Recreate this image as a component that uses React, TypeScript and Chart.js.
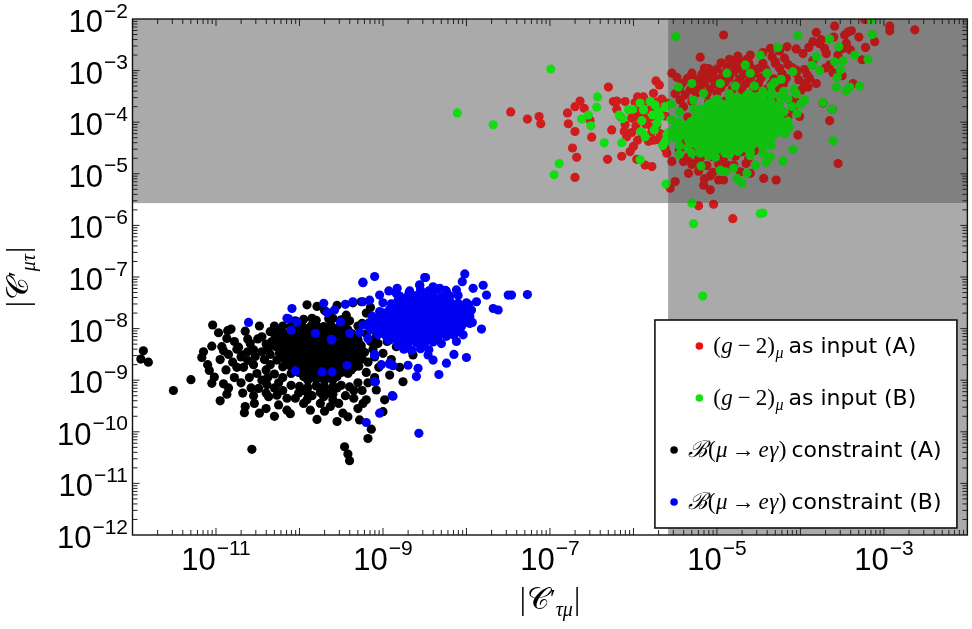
import React, { useEffect, useRef } from "react";
import { Chart, registerables } from "chart.js";
Chart.register(...registerables);

type P = [number, number]; // [log10 x, log10 y]
type Row = [number, number[]]; // [log10 y, list of log10 x]

const X_MIN = 1e-12;
const X_MAX = 1e-2;
const Y_MIN = 1e-12;
const Y_MAX = 1e-2;
const BAND_X = 2.6e-6;
const BAND_Y = 2.7e-6;

const xTickExps = [-11, -9, -7, -5, -3];
const yTickExps = [-12, -11, -10, -9, -8, -7, -6, -5, -4, -3, -2];
const tickDecades = [-12, -11, -10, -9, -8, -7, -6, -5, -4, -3];
const tickMultipliers = [1, 2, 3, 4, 5, 6, 7, 8, 9];

const legendLabels = ["as input (A)", "as input (B)", "constraint (A)", "constraint (B)"];
const legendMath = ["g2", "g2", "meg", "meg"];
const legendColors = ["#ea1111", "#12e412", "#000000", "#0000f0"];

const blackPts: P[] = [
  [-11.87,-8.43],[-11.90,-8.59],[-11.81,-8.65],[-11.51,-9.20],[-11.30,-8.99],[-11.17,-8.56],[-11.04,-7.93],[-10.97,-8.08],
  [-10.86,-8.04],[-10.82,-8.01],[-10.87,-8.19],[-11.05,-8.34],[-10.93,-8.35],[-10.91,-8.43],[-11.08,-8.81],[-11.02,-8.94],
  [-11.05,-9.06],[-10.91,-9.07],[-10.87,-9.27],[-10.75,-8.40],[-10.73,-8.36],[-10.69,-8.51],[-10.75,-8.75],[-10.67,-8.75],
  [-10.68,-9.25],[-10.65,-9.51],[-10.66,-9.63],[-10.57,-10.34],[-10.54,-9.45],[-10.48,-9.64],[-10.53,-8.54],[-10.51,-8.87],
  [-10.49,-9.16],[-10.39,-9.09],[-10.37,-9.32],[-10.27,-9.29],[-10.25,-9.48],[-10.15,-9.58],[-10.11,-9.65],[-10.45,-8.16],
  [-10.35,-8.06],[-10.23,-8.06],[-10.21,-8.29],[-10.37,-8.38],[-10.59,-8.29],[-10.55,-8.41],
  [-9.91,-7.54],[-9.79,-7.57],[-9.85,-7.80],[-9.85,-7.93],[-9.63,-7.70],[-9.36,-7.50],[-9.26,-7.48],[-9.15,-7.59],[-9.20,-7.70],[-9.44,-7.74],
  [-10.01,-9.25],[-9.91,-9.38],[-9.87,-9.58],[-9.79,-9.76],[-9.71,-9.32],[-9.63,-9.51],[-9.53,-9.45],[-9.48,-9.64],[-9.42,-9.71],
  [-9.46,-10.29],[-9.42,-10.43],[-9.40,-10.56],[-9.28,-9.77],[-9.18,-10.13],[-9.14,-9.95],[-9.24,-9.45],[-9.20,-9.38],[-9.08,-9.19],
  [-8.98,-9.38],[-8.92,-8.90],[-8.76,-9.03],[-9.00,-9.61],[-9.06,-8.29],[-9.00,-8.48],[-8.84,-8.35],[-8.64,-8.51],[-8.56,-8.29],
  [-10.70,-8.55],[-10.62,-8.62],[-10.60,-8.95],[-10.55,-8.70],[-10.45,-8.45],[-10.42,-8.60],[-10.40,-8.80],[-10.38,-8.95],
  [-10.45,-9.00],[-10.33,-8.25],[-10.50,-8.20],[-10.62,-8.20],[-10.80,-8.65],[-10.78,-8.95],[-10.30,-9.15],[-10.20,-9.20],
  [-10.10,-9.10],[-10.05,-9.35],[-9.95,-9.20],[-9.85,-9.30],[-9.75,-9.15],[-9.65,-9.25],[-9.55,-9.15],[-9.45,-9.30],
  [-9.35,-9.20],[-9.30,-9.05],[-9.10,-8.95],[-9.05,-8.75],[-9.10,-8.55],[-9.12,-8.40],[-9.08,-8.15],[-9.15,-8.00],
  [-9.25,-7.90],[-9.40,-7.85],[-9.60,-7.80],[-9.70,-7.65],[-9.55,-7.55],[-10.05,-7.85],[-10.20,-7.95],[-10.30,-8.10],
  [-8.90,-8.60],[-8.80,-8.75],[-8.95,-8.25],[-9.00,-8.05],
  [-10.85,-8.50],[-10.95,-8.60],[-10.88,-8.80],[-10.62,-8.45],[-10.70,-9.05],[-10.58,-9.15],[-10.35,-8.50],[-10.35,-8.70],
  [-10.30,-8.88],[-10.20,-8.95],[-10.25,-9.05],[-10.40,-9.25],[-10.15,-9.35],[-9.95,-9.45],[-9.75,-9.45],[-9.60,-9.38],
  [-9.35,-9.35],[-9.25,-9.20],[-9.18,-9.05],[-9.20,-8.85],[-9.18,-8.65],[-9.15,-8.25],[-9.20,-8.10],[-9.30,-7.95],
  [-9.45,-7.95],[-10.10,-7.95],[-10.30,-7.95],[-10.40,-8.30],[-11.10,-8.70],[-11.15,-8.45],[-10.78,-8.25],[-10.65,-8.05],
  [-10.48,-7.95],[-10.55,-9.30],[-10.85,-9.15],[-10.95,-9.40],[-10.40,-9.55],[-10.30,-9.70],[-9.70,-9.60],[-9.55,-9.80],[-9.30,-9.55],
  [-9.95,-7.82],[-9.80,-7.84],[-9.65,-7.81],[-9.50,-7.83],
  [-9.97,-7.95],[-9.88,-7.98],[-9.80,-7.93],[-9.71,-7.96],[-9.62,-7.94],[-9.53,-7.98],
  [-10.15,-8.10],[-10.06,-8.07],[-9.98,-8.09],[-9.89,-8.06],[-9.81,-8.10],[-9.72,-8.08],[-9.64,-8.05],[-9.55,-8.09],[-9.46,-8.07],[-9.37,-8.10],
  [-10.24,-8.22],[-10.15,-8.20],[-10.07,-8.23],[-9.98,-8.19],[-9.90,-8.22],[-9.81,-8.21],[-9.73,-8.24],[-9.64,-8.20],[-9.56,-8.22],[-9.47,-8.19],[-9.39,-8.23],[-9.30,-8.21],
  [-10.28,-8.35],[-10.19,-8.33],[-10.11,-8.36],[-10.02,-8.32],[-9.94,-8.35],[-9.85,-8.34],[-9.77,-8.37],[-9.68,-8.33],[-9.60,-8.35],[-9.51,-8.32],[-9.43,-8.36],[-9.34,-8.34],[-9.26,-8.33],
  [-10.24,-8.48],[-10.15,-8.46],[-10.07,-8.49],[-9.98,-8.45],[-9.90,-8.48],[-9.81,-8.47],[-9.73,-8.50],[-9.64,-8.46],[-9.56,-8.48],[-9.47,-8.45],[-9.39,-8.49],[-9.30,-8.47],[-9.22,-8.46],
  [-10.27,-8.61],[-10.18,-8.59],[-10.10,-8.62],[-10.01,-8.58],[-9.93,-8.61],[-9.84,-8.60],[-9.76,-8.63],[-9.67,-8.59],[-9.59,-8.61],[-9.50,-8.58],[-9.42,-8.62],[-9.33,-8.60],[-9.25,-8.59],
  [-10.20,-8.74],[-10.11,-8.72],[-10.03,-8.75],[-9.94,-8.71],[-9.86,-8.74],[-9.77,-8.73],[-9.69,-8.76],[-9.60,-8.72],[-9.52,-8.74],[-9.43,-8.71],[-9.35,-8.75],[-9.29,-8.73],
  [-10.10,-8.87],[-10.01,-8.85],[-9.93,-8.88],[-9.84,-8.84],[-9.76,-8.87],[-9.67,-8.86],[-9.59,-8.89],[-9.50,-8.85],[-9.42,-8.87],
  [-9.90,-9.00],[-9.80,-8.98],[-9.70,-9.01],[-9.60,-8.99],
  [-10.00,-9.12],[-9.90,-9.14],[-9.80,-9.11],[-9.70,-9.13],[-9.60,-9.12],[-9.50,-9.10],[-9.40,-9.13],
  [-9.90,-9.26],[-9.75,-9.24],[-9.60,-9.27],
];

const blackCoreRows: Row[] = [
  [-8.02, [-10.10,-10.01,-9.93,-9.84,-9.76,-9.67,-9.59,-9.50,-9.42]],
  [-8.15, [-10.20,-10.11,-10.02,-9.94,-9.85,-9.77,-9.68,-9.60,-9.51,-9.43,-9.34]],
  [-8.28, [-10.24,-10.15,-10.06,-9.98,-9.89,-9.81,-9.72,-9.64,-9.55,-9.47,-9.38,-9.29]],
  [-8.41, [-10.20,-10.11,-10.02,-9.94,-9.85,-9.77,-9.68,-9.60,-9.51,-9.43,-9.34,-9.26]],
  [-8.54, [-10.20,-10.11,-10.02,-9.94,-9.85,-9.77,-9.68,-9.60,-9.51,-9.43,-9.34,-9.26]],
  [-8.67, [-10.15,-10.06,-9.98,-9.89,-9.81,-9.72,-9.64,-9.55,-9.47,-9.38,-9.31]],
  [-8.80, [-10.06,-9.98,-9.89,-9.81,-9.72,-9.64,-9.55,-9.47,-9.38]],
  [-8.93, [-9.95,-9.85,-9.75,-9.65,-9.55]],
];

const bluePts: P[] = [
  [-9.10,-6.99],[-9.24,-7.10],[-8.49,-7.01],[-8.02,-6.94],[-8.05,-7.09],[-7.50,-7.35],[-7.46,-7.35],[-7.27,-7.34],
  [-7.68,-7.61],[-7.62,-7.64],[-7.82,-8.01],[-7.96,-7.90],[-8.00,-8.56],[-8.15,-8.50],[-8.33,-8.89],[-8.24,-8.67],
  [-8.58,-8.77],[-8.60,-8.93],[-8.70,-8.71],[-8.57,-10.03],[-9.04,-9.64],[-8.89,-9.30],[-9.10,-9.03],[-9.20,-9.82],
  [-8.92,-8.67],[-9.10,-8.50],[-10.09,-7.61],[-10.15,-7.80],[-10.03,-7.87],[-10.10,-8.03],[-9.71,-7.51],[-9.81,-8.09],
  [-9.51,-7.87],[-9.40,-8.09],[-9.36,-7.48],[-9.45,-7.53],[-9.24,-7.48],[-9.16,-7.45],[-9.61,-8.22],[-10.05,-8.82],
  [-9.73,-8.84],[-9.61,-8.84],[-9.43,-8.71],
  [-8.83,-7.22],[-8.80,-7.41],[-8.69,-7.32],[-8.56,-7.16],[-8.40,-7.19],[-8.32,-7.22],[-8.24,-7.28],[-8.12,-7.25],
  [-7.92,-7.22],[-7.80,-7.16],[-7.76,-7.35],[-7.88,-7.48],[-7.97,-7.54],[-8.08,-8.06],[-8.12,-8.25],[-8.04,-8.12],
  [-9.04,-7.67],[-9.00,-7.80],[-9.24,-7.93],[-9.06,-8.12],[-8.94,-8.22],[-8.82,-8.32],[-8.66,-8.42],[-8.46,-8.51],
  [-8.40,-8.61],[-8.73,-8.25],
  [-10.61,-7.88],[-10.13,-7.81],[-9.62,-8.21],[-9.28,-8.08],[-9.18,-8.19],[-9.10,-8.51],[-9.02,-8.70],[-8.92,-8.69],
  [-8.88,-8.72],[-9.09,-9.03],[-8.88,-9.31],[-9.67,-7.69],[-9.58,-7.64],[-9.24,-7.11],[-9.04,-7.35],[-8.93,-7.27],
  [-8.84,-7.32],[-8.82,-7.45],[-8.50,-7.01],[-8.56,-7.15],
  [-8.55,-7.25],[-8.45,-7.27],[-8.35,-7.24],[-8.25,-7.26],[-8.68,-7.27],
  [-8.80,-7.37],[-8.70,-7.39],[-8.60,-7.36],[-8.50,-7.38],[-8.40,-7.35],[-8.30,-7.39],[-8.20,-7.37],[-8.10,-7.36],
  [-9.00,-7.50],[-8.90,-7.52],[-8.80,-7.49],[-8.73,-7.51],[-8.19,-7.49],[-8.10,-7.51],[-8.00,-7.50],
  [-8.64,-7.50],[-8.55,-7.52],[-8.46,-7.49],[-8.37,-7.51],[-8.28,-7.50],
  [-8.92,-7.63],[-8.83,-7.65],[-8.74,-7.62],[-8.65,-7.64],[-8.56,-7.61],[-8.47,-7.65],[-8.38,-7.63],[-8.29,-7.62],[-8.20,-7.64],[-8.11,-7.61],[-8.03,-7.65],
  [-9.04,-7.76],[-8.95,-7.78],[-8.86,-7.75],[-8.77,-7.77],[-8.68,-7.74],[-8.59,-7.78],[-8.50,-7.76],[-8.41,-7.75],[-8.32,-7.77],[-8.23,-7.74],[-8.14,-7.78],[-8.05,-7.76],
  [-9.09,-7.89],[-9.00,-7.91],[-8.91,-7.88],[-8.82,-7.90],[-8.73,-7.87],[-8.64,-7.91],[-8.55,-7.89],[-8.46,-7.88],[-8.37,-7.90],[-8.28,-7.87],[-8.19,-7.91],[-8.10,-7.89],[-8.02,-7.88],
  [-9.08,-8.02],[-8.99,-8.04],[-8.90,-8.01],[-8.81,-8.03],[-8.72,-8.00],[-8.63,-8.04],[-8.54,-8.02],[-8.45,-8.01],[-8.36,-8.03],[-8.27,-8.00],[-8.18,-8.04],
  [-8.96,-8.15],[-8.87,-8.17],[-8.78,-8.14],[-8.69,-8.16],[-8.60,-8.13],[-8.51,-8.17],[-8.42,-8.15],[-8.33,-8.14],
  [-8.80,-8.28],[-8.70,-8.30],[-8.60,-8.27],[-8.50,-8.28],[-8.40,-8.26],[-8.30,-8.29],
  [-8.75,-8.40],[-8.65,-8.42],[-8.55,-8.39],[-8.45,-8.41],
  [-8.24,-8.15],[-8.15,-8.13],[-8.10,-8.02],[-9.15,-8.02],[-9.17,-7.89],[-9.13,-7.76],[-7.96,-7.76],[-7.94,-7.64],[-7.93,-7.88],
];

const blueCoreRows: Row[] = [
  [-7.43, [-8.75,-8.65,-8.55,-8.45,-8.35,-8.25]],
  [-7.56, [-8.87,-8.78,-8.69,-8.60,-8.51,-8.42,-8.33,-8.24,-8.15,-8.06]],
  [-7.70, [-8.98,-8.89,-8.80,-8.71,-8.62,-8.53,-8.44,-8.35,-8.26,-8.17,-8.08,-8.00]],
  [-7.83, [-9.05,-8.96,-8.87,-8.78,-8.69,-8.60,-8.51,-8.42,-8.33,-8.24,-8.15,-8.06]],
  [-7.96, [-9.04,-8.95,-8.86,-8.77,-8.68,-8.59,-8.50,-8.41,-8.32,-8.23,-8.14,-8.06]],
  [-8.09, [-9.03,-8.94,-8.85,-8.76,-8.67,-8.58,-8.49,-8.40,-8.31,-8.22]],
  [-8.22, [-8.92,-8.83,-8.74,-8.65,-8.56,-8.47,-8.38]],
];

const redPts: P[] = [
  [-7.47,-3.80],[-7.27,-3.94],[-7.13,-3.89],[-7.11,-4.03],[-6.79,-3.82],[-6.78,-4.03],[-6.70,-3.70],[-6.64,-3.59],
  [-6.59,-3.73],[-6.52,-3.96],[-6.50,-4.29],[-6.70,-4.18],[-6.73,-4.50],[-6.68,-4.68],[-6.70,-5.07],[-6.31,-4.72],
  [-6.30,-3.32],[-6.24,-3.60],[-6.20,-3.59],[-6.26,-4.15],[-6.14,-4.66],[-6.04,-4.57],[-5.96,-4.72],[-5.86,-4.83],
  [-5.78,-4.86],[-5.95,-3.51],[-5.88,-3.51],[-5.76,-3.44],[-5.73,-3.20],[-5.69,-3.28],[-5.66,-3.55],[-6.11,-4.18],
  [-6.08,-4.28],[-6.00,-4.47],[-5.96,-3.89],[-5.84,-3.96],[-5.76,-4.35],[-5.62,-4.51],[-5.60,-4.60],[-5.56,-5.28],
  [-5.50,-5.15],[-5.54,-4.76],[-5.40,-4.76],[-5.34,-4.99],[-5.54,-3.05],[-5.48,-3.13],[-5.36,-3.18],[-5.28,-3.21],
  [-5.20,-2.74],[-5.16,-3.09],[-5.10,-2.96],[-5.04,-3.18],[-4.92,-2.31],[-4.85,-2.78],[-4.76,-2.86],[-4.72,-2.83],
  [-4.64,-2.78],[-4.56,-2.99],[-4.50,-2.96],[-4.36,-2.57],[-4.34,-2.73],[-4.30,-2.86],[-4.19,-2.76],[-4.16,-2.54],
  [-4.05,-2.99],[-3.97,-2.67],[-3.85,-2.44],[-3.81,-2.26],[-3.77,-2.48],[-3.71,-2.57],[-3.69,-2.67],[-3.65,-2.89],
  [-3.59,-2.14],[-3.47,-2.31],[-3.43,-2.25],[-3.39,-2.23],[-3.45,-2.47],[-3.49,-2.57],[-3.26,-2.79],[-3.22,-2.55],
  [-3.11,-2.44],[-2.93,-2.14],[-2.93,-2.23],[-2.63,-2.21],[-3.23,-2.01],[-3.55,-4.80],[-3.65,-3.97],[-3.73,-3.63],
  [-3.62,-3.75],[-4.03,-4.25],[-3.37,-3.25],[-3.61,-3.04],[-4.29,-5.12],[-4.44,-5.09],[-4.60,-4.99],[-5.04,-5.59],
  [-5.22,-5.62],[-4.81,-5.87],[-5.08,-5.31],[-5.16,-5.22],[-4.92,-5.12],[-4.88,-4.83],[-5.08,-5.04],[-5.20,-4.86],
  [-5.28,-4.80],[-5.22,-4.67],[-5.44,-3.57],[-5.40,-3.70],[-5.48,-4.28],[-5.38,-4.41],[-5.60,-3.63],[-5.68,-4.22],
  [-5.78,-4.09],[-3.99,-3.38],[-3.91,-3.32],[-3.89,-3.15],[-3.81,-3.25],[-4.07,-3.57],[-4.09,-3.76],[-4.01,-3.89],
  [-4.45,-2.65],[-4.25,-2.62],[-4.05,-2.58],[-3.90,-2.55],[-3.75,-2.40],[-3.60,-2.35],[-3.30,-2.35],[-3.40,-2.60],
  [-3.55,-2.70],[-3.85,-2.80],[-4.60,-2.70],[-4.75,-2.72],[-3.70,-2.95],[-3.50,-3.10],[-3.95,-3.25],
  [-4.95,-2.85],[-4.80,-2.87],[-4.62,-2.84],[-4.45,-2.86],[-4.30,-2.83],[-4.15,-2.88],
  [-5.15,-2.95],[-5.00,-2.97],[-4.88,-2.94],[-4.75,-2.96],[-4.60,-2.93],[-4.42,-2.97],[-4.25,-2.95],[-4.10,-2.94],[-3.95,-2.98],
  [-5.30,-3.05],[-5.18,-3.07],[-5.05,-3.04],[-4.92,-3.06],[-4.80,-3.03],[-4.68,-3.07],[-4.55,-3.05],[-4.40,-3.04],[-4.22,-3.06],[-4.05,-3.05],[-3.92,-3.08],
  [-5.35,-3.15],[-5.22,-3.17],[-5.10,-3.14],[-4.97,-3.16],[-4.85,-3.13],[-4.73,-3.17],[-4.60,-3.15],[-4.47,-3.14],[-4.32,-3.16],[-4.17,-3.15],[-4.02,-3.18],
  [-5.42,-3.25],[-5.28,-3.27],[-5.15,-3.24],[-5.02,-3.26],[-4.90,-3.23],[-4.78,-3.27],[-4.65,-3.25],[-4.50,-3.24],[-4.35,-3.26],[-4.20,-3.25],
  [-5.45,-3.35],[-5.32,-3.37],[-5.20,-3.34],[-5.08,-3.36],[-4.95,-3.33],[-4.82,-3.37],[-4.70,-3.35],[-4.55,-3.34],[-4.40,-3.36],[-4.25,-3.35],
  [-5.50,-3.45],[-5.38,-3.47],[-5.25,-3.44],[-5.12,-3.46],[-5.00,-3.43],[-4.85,-3.47],[-4.70,-3.45],[-4.55,-3.44],[-4.40,-3.46],
  [-5.45,-4.55],[-5.30,-4.57],[-5.15,-4.54],[-5.00,-4.56],[-4.85,-4.53],[-4.70,-4.57],[-4.55,-4.55],
  [-5.35,-4.68],[-5.20,-4.70],[-5.05,-4.67],[-4.92,-4.69],[-4.78,-4.66],[-4.62,-4.70],
  [-5.30,-4.82],[-5.12,-4.84],[-4.98,-4.81],[-4.80,-4.83],[-4.65,-4.80],
  [-5.22,-4.95],[-5.05,-4.97],[-4.90,-4.94],[-4.72,-4.96],[-5.15,-5.10],[-4.98,-5.12],
  [-6.10,-3.60],[-5.98,-3.62],[-5.85,-3.59],[-5.72,-3.61],
  [-6.20,-3.75],[-6.05,-3.77],[-5.92,-3.74],[-5.80,-3.76],[-5.68,-3.73],
  [-6.15,-3.90],[-6.02,-3.92],[-5.88,-3.89],[-5.75,-3.91],[-5.62,-3.88],
  [-6.10,-4.05],[-5.97,-4.07],[-5.85,-4.04],[-5.72,-4.06],
  [-6.02,-4.20],[-5.90,-4.22],[-5.78,-4.19],[-5.95,-4.35],[-5.82,-4.37],[-5.70,-4.34],
  [-5.30,-3.60],[-5.10,-3.62],[-4.90,-3.59],[-4.70,-3.61],[-4.50,-3.58],[-4.30,-3.62],[-4.10,-3.60],
  [-5.35,-3.90],[-5.15,-3.92],[-4.95,-3.89],[-4.75,-3.91],[-4.55,-3.88],[-4.35,-3.92],[-4.15,-3.90],
  [-5.35,-4.20],[-5.15,-4.22],[-4.95,-4.19],[-4.75,-4.21],[-4.55,-4.18],[-4.35,-4.22],
  [-5.30,-4.40],[-5.10,-4.42],[-4.90,-4.39],[-4.70,-4.41],[-4.50,-4.38],
];

const greenPts: P[] = [
  [-8.11,-3.82],[-7.68,-4.05],[-6.99,-2.97],[-6.89,-4.80],[-6.95,-5.02],[-6.43,-3.51],[-6.44,-3.71],[-6.54,-3.86],
  [-6.51,-4.07],[-6.62,-3.94],[-6.35,-4.40],[-6.14,-4.40],[-6.17,-3.86],[-6.13,-3.93],[-6.06,-3.76],[-6.01,-3.75],
  [-5.92,-3.63],[-5.88,-3.76],[-5.90,-3.97],[-5.91,-4.18],[-5.86,-4.28],[-5.74,-3.67],[-5.77,-3.86],[-5.72,-4.02],
  [-5.68,-3.89],[-5.62,-3.70],[-5.60,-4.25],[-5.62,-4.38],[-5.92,-4.73],[-5.61,-5.20],[-5.45,-4.62],[-5.49,-2.34],
  [-5.46,-3.32],[-5.30,-5.57],[-5.28,-5.97],[-4.48,-5.77],[-5.17,-7.37],[-4.45,-5.76],[-5.30,-3.25],[-5.28,-3.57],
  [-5.19,-4.85],[-5.02,-4.68],[-4.96,-4.93],[-4.90,-4.96],[-4.80,-4.89],[-4.76,-5.09],[-4.70,-5.18],[-4.64,-4.99],
  [-4.54,-4.83],[-4.41,-4.78],[-4.36,-4.67],[-4.21,-4.75],[-4.09,-4.53],[-4.03,-2.32],[-3.65,-2.39],[-3.54,-2.54],
  [-3.81,-2.73],[-3.86,-2.90],[-3.77,-3.00],[-3.59,-2.83],[-3.49,-2.81],[-3.35,-2.70],[-3.19,-2.78],[-3.14,-2.30],
  [-3.52,-2.99],[-3.56,-3.13],[-3.57,-3.32],[-3.45,-3.39],[-3.41,-3.32],[-3.29,-3.30],[-3.73,-3.62],[-3.62,-3.75],
  [-3.61,-4.36],[-3.95,-3.57],[-4.04,-3.83],[-4.09,-3.02],[-4.08,-3.36],[-4.27,-2.55],[-4.48,-2.70],[-4.40,-3.05],
  [-4.31,-3.23],[-4.23,-3.17],[-4.60,-3.05],[-4.66,-2.89],[-4.88,-3.05],[-4.96,-3.25],[-5.16,-3.44],[-3.15,-2.02],
  [-4.55,-3.30],[-4.45,-3.40],[-4.35,-3.45],[-4.25,-3.50],[-4.15,-3.55],[-4.20,-3.40],[-4.35,-3.30],[-4.50,-3.50],
  [-4.62,-3.45],[-4.10,-3.70],[-4.05,-3.45],[-4.00,-3.65],[-4.70,-3.60],[-4.40,-3.60],[-4.25,-3.65],[-5.00,-3.55],
  [-5.10,-3.65],[-5.20,-3.75],[-4.85,-3.45],[-4.78,-3.30],
  [-5.55,-3.95],[-5.50,-4.10],[-5.52,-4.30],[-5.45,-4.45],[-5.45,-3.80],[-5.58,-4.20],
  [-5.10,-4.65],[-4.85,-4.62],[-4.60,-4.65],[-4.45,-4.60],[-5.30,-4.60],
  [-5.70,-3.80],[-5.75,-4.15],[-5.65,-4.45],[-5.80,-3.60],[-5.55,-3.65],
  [-4.85,-3.50],[-4.75,-3.52],[-4.65,-3.49],[-4.55,-3.51],[-4.45,-3.48],
  [-5.05,-3.62],[-4.95,-3.64],[-4.85,-3.61],[-4.75,-3.63],[-4.65,-3.60],[-4.55,-3.64],[-4.45,-3.62],[-4.35,-3.61],
  [-5.28,-3.74],[-5.15,-3.74],[-5.05,-3.75],[-4.40,-3.75],[-4.30,-3.74],[-4.20,-3.80],
  [-4.94,-3.74],[-4.85,-3.76],[-4.76,-3.73],[-4.67,-3.75],[-4.58,-3.72],[-4.49,-3.76],
  [-5.17,-3.87],[-5.08,-3.85],[-4.99,-3.88],[-4.90,-3.84],[-4.81,-3.87],[-4.72,-3.86],[-4.63,-3.89],[-4.54,-3.85],[-4.45,-3.87],[-4.36,-3.84],[-4.29,-3.88],
  [-5.31,-3.99],[-5.22,-3.97],[-5.13,-4.00],[-5.04,-3.96],[-4.95,-3.99],[-4.86,-3.98],[-4.77,-4.01],[-4.68,-3.97],[-4.59,-3.99],[-4.50,-3.96],[-4.41,-4.00],[-4.32,-3.98],[-4.23,-3.97],
  [-5.37,-4.11],[-5.28,-4.09],[-5.19,-4.12],[-5.10,-4.08],[-5.01,-4.11],[-4.92,-4.10],[-4.83,-4.13],[-4.74,-4.09],[-4.65,-4.11],[-4.56,-4.08],[-4.47,-4.12],[-4.38,-4.10],[-4.29,-4.09],[-4.22,-4.11],
  [-5.38,-4.23],[-5.29,-4.21],[-5.20,-4.24],[-5.11,-4.20],[-5.02,-4.23],[-4.93,-4.22],[-4.84,-4.25],[-4.75,-4.21],[-4.66,-4.23],[-4.57,-4.20],[-4.48,-4.24],[-4.39,-4.22],[-4.29,-4.21],
  [-5.34,-4.35],[-5.25,-4.33],[-5.16,-4.36],[-5.07,-4.32],[-4.98,-4.35],[-4.89,-4.34],[-4.80,-4.37],[-4.71,-4.33],[-4.62,-4.35],[-4.53,-4.32],[-4.44,-4.36],[-4.37,-4.34],
  [-5.22,-4.47],[-5.13,-4.45],[-5.04,-4.48],[-4.95,-4.44],[-4.86,-4.47],[-4.77,-4.46],[-4.68,-4.49],[-4.58,-4.45],
  [-5.05,-4.58],[-4.90,-4.60],[-4.75,-4.57],
  [-5.45,-4.00],[-5.47,-4.15],[-5.45,-4.28],[-4.15,-3.98],[-4.13,-4.10],[-4.18,-4.22],
  [-5.35,-4.50],[-4.45,-4.48],[-4.35,-4.45],[-5.20,-4.60],[-4.60,-4.58],
];

const greenCoreRows: Row[] = [
  [-3.68, [-4.98,-4.89,-4.80,-4.71,-4.62,-4.53,-4.44]],
  [-3.80, [-5.12,-5.03,-4.94,-4.85,-4.76,-4.67,-4.58,-4.49,-4.40,-4.32]],
  [-3.92, [-5.26,-5.17,-5.08,-4.99,-4.90,-4.81,-4.72,-4.63,-4.54,-4.45,-4.36,-4.27]],
  [-4.04, [-5.34,-5.25,-5.16,-5.07,-4.98,-4.89,-4.80,-4.71,-4.62,-4.53,-4.44,-4.35,-4.26]],
  [-4.16, [-5.33,-5.24,-5.15,-5.06,-4.97,-4.88,-4.79,-4.70,-4.61,-4.52,-4.43,-4.34,-4.25]],
  [-4.28, [-5.33,-5.24,-5.15,-5.06,-4.97,-4.88,-4.79,-4.70,-4.61,-4.52,-4.43,-4.34]],
  [-4.40, [-5.29,-5.20,-5.11,-5.02,-4.93,-4.84,-4.75,-4.66,-4.57,-4.48,-4.40]],
  [-4.52, [-5.17,-5.08,-4.99,-4.90,-4.81,-4.72,-4.63]],
];

const rowsToPts = (rows: Row[]): P[] => rows.flatMap(([ly, xs]) => xs.map((lx) => [lx, ly] as P));
const toXY = (pts: P[]) => pts.map(([a, b]) => ({ x: Math.pow(10, a), y: Math.pow(10, b) }));

const SANS_TICK = '"Liberation Sans", Arial, sans-serif';
const SERIF = '"Liberation Serif", "DejaVu Serif", serif';
const LEG_SANS = '"DejaVu Sans", sans-serif';

type Seg = { t: string; f: string; dy?: number; gap?: number };

function segsWidth(ctx: CanvasRenderingContext2D, segs: Seg[]) {
  let w = 0;
  for (const s of segs) {
    ctx.font = s.f;
    w += ctx.measureText(s.t).width + (s.gap || 0);
  }
  return w;
}
function drawSegs(ctx: CanvasRenderingContext2D, segs: Seg[], x: number, y: number) {
  for (const s of segs) {
    ctx.font = s.f;
    ctx.fillText(s.t, x, y + (s.dy || 0));
    x += ctx.measureText(s.t).width + (s.gap || 0);
  }
  return x;
}

function mathSegs(kind: string): Seg[] {
  const up = `23px ${SERIF}`;
  const it = `italic 23px ${SERIF}`;
  const sub = `italic 16px ${SERIF}`;
  if (kind === "g2") {
    return [
      { t: "(", f: up, gap: 0.5 },
      { t: "g", f: it, gap: 5 },
      { t: "\u2212", f: up, gap: 5 },
      { t: "2", f: up },
      { t: ")", f: up, gap: 0.5 },
      { t: "\u03bc", f: sub, dy: 5 },
    ];
  }
  return [
    { t: "\u212c", f: `italic 23px ${SERIF}`, gap: 1 },
    { t: "(", f: up, gap: 0.5 },
    { t: "\u03bc", f: it, gap: 4 },
    { t: "\u2192", f: up, gap: 4 },
    { t: "e", f: it, gap: 0.5 },
    { t: "\u03b3", f: it, gap: 0.5 },
    { t: ")", f: up },
  ];
}

function titleSegs(subText: string): Seg[] {
  return [
    { t: "|", f: `31px ${SERIF}`, gap: 1 },
    { t: "\ud835\udc9e", f: `31px ${SERIF}` },
    { t: "\u2032", f: `26px ${SERIF}`, dy: -2 },
    { t: subText, f: `italic 20px ${SERIF}`, dy: 7, gap: 1 },
    { t: "|", f: `31px ${SERIF}` },
  ];
}

const bandsPlugin = {
  id: "bands",
  beforeDatasetsDraw(chart: any) {
    const { ctx, chartArea: ca, scales } = chart;
    const xb = scales.x.getPixelForValue(BAND_X);
    const yb = scales.y.getPixelForValue(BAND_Y);
    ctx.save();
    ctx.fillStyle = "#aaaaaa";
    ctx.fillRect(ca.left, ca.top, xb - ca.left, yb - ca.top);
    ctx.fillRect(xb, yb, ca.right - xb, ca.bottom - yb);
    ctx.fillStyle = "#939393";
    ctx.fillRect(xb, ca.top, ca.right - xb, yb - ca.top);
    ctx.restore();
  },
  afterDatasetsDraw(chart: any) {
    const { ctx, chartArea: ca, scales } = chart;
    const xb = scales.x.getPixelForValue(BAND_X);
    const yb = scales.y.getPixelForValue(BAND_Y);
    ctx.save();
    ctx.fillStyle = "rgba(0,0,0,0.13)";
    ctx.fillRect(xb, ca.top, ca.right - xb, yb - ca.top);
    ctx.restore();
  },
};

const framePlugin = {
  id: "frame",
  afterDraw(chart: any) {
    const { ctx, chartArea: ca, scales } = chart;
    const xs = scales.x;
    const ys = scales.y;
    ctx.save();
    ctx.strokeStyle = "#222";
    ctx.lineWidth = 1;
    ctx.beginPath();
    for (const d of tickDecades) {
      for (const m of tickMultipliers) {
        const v = m * Math.pow(10, d);
        const len = m === 1 ? 7 : 5;
        if (v > X_MIN * 1.0001 && v < X_MAX * 0.9999) {
          const px = xs.getPixelForValue(v);
          ctx.moveTo(px, ca.bottom);
          ctx.lineTo(px, ca.bottom - len);
          ctx.moveTo(px, ca.top);
          ctx.lineTo(px, ca.top + len);
        }
        if (v > Y_MIN * 1.0001 && v < Y_MAX * 0.9999) {
          const py = ys.getPixelForValue(v);
          ctx.moveTo(ca.left, py);
          ctx.lineTo(ca.left + len, py);
          ctx.moveTo(ca.right, py);
          ctx.lineTo(ca.right - len, py);
        }
      }
    }
    ctx.stroke();
    ctx.lineWidth = 1.4;
    ctx.strokeStyle = "#111";
    ctx.strokeRect(ca.left, ca.top, ca.right - ca.left, ca.bottom - ca.top);

    ctx.fillStyle = "#000";
    ctx.textBaseline = "alphabetic";
    ctx.textAlign = "left";
    const baseFont = `31px ${SANS_TICK}`;
    const supFont = `21px ${SANS_TICK}`;
    for (const e of xTickExps) {
      const px = xs.getPixelForValue(Math.pow(10, e));
      const sup = "\u2212" + Math.abs(e);
      ctx.font = baseFont;
      const wb = ctx.measureText("10").width;
      ctx.font = supFont;
      const ws = ctx.measureText(sup).width;
      const x0 = px - (wb + ws + 1) / 2;
      ctx.font = baseFont;
      ctx.fillText("10", x0, ca.bottom + 35);
      ctx.font = supFont;
      ctx.fillText(sup, x0 + wb + 1, ca.bottom + 20);
    }
    for (const e of yTickExps) {
      const py = ys.getPixelForValue(Math.pow(10, e));
      const sup = "\u2212" + Math.abs(e);
      ctx.font = supFont;
      const ws = ctx.measureText(sup).width;
      ctx.font = baseFont;
      const wb = ctx.measureText("10").width;
      const xr = ca.left - 4.5;
      ctx.font = supFont;
      ctx.fillText(sup, xr - ws, py - 1.5);
      ctx.font = baseFont;
      ctx.fillText("10", xr - ws - 1 - wb, py + 13);
    }

    const xt = titleSegs("\u03c4\u03bc");
    const xtw = segsWidth(ctx, xt);
    drawSegs(ctx, xt, (ca.left + ca.right) / 2 - xtw / 2, ca.bottom + 74);
    const yt = titleSegs("\u03bc\u03c4");
    const ytw = segsWidth(ctx, yt);
    ctx.save();
    ctx.translate(28, (ca.top + ca.bottom) / 2);
    ctx.rotate(-Math.PI / 2);
    drawSegs(ctx, yt, -ytw / 2, 0);
    ctx.restore();

    const bw = 302;
    const bh = 208;
    const bx = ca.right - 10.5 - bw;
    const by = ca.bottom - 7 - bh;
    ctx.fillStyle = "#ffffff";
    ctx.fillRect(bx, by, bw, bh);
    ctx.strokeStyle = "#111";
    ctx.lineWidth = 1.6;
    ctx.strokeRect(bx, by, bw, bh);
    const cx = bx + bw / 2;
    legendLabels.forEach((lab, i) => {
      const cy = by + 26 + i * 52;
      const segs = mathSegs(legendMath[i]);
      const mw = segsWidth(ctx, segs);
      ctx.font = `22px ${LEG_SANS}`;
      const lw = ctx.measureText(lab).width;
      const r = 3.8;
      const total = 2 * r + 10 + mw + 5 + lw;
      let x = cx - total / 2;
      ctx.fillStyle = legendColors[i];
      ctx.beginPath();
      ctx.arc(x + r, cy, r, 0, Math.PI * 2);
      ctx.fill();
      x += 2 * r + 10;
      ctx.fillStyle = "#000";
      x = drawSegs(ctx, segs, x, cy + 7);
      x += 5;
      ctx.font = `22px ${LEG_SANS}`;
      ctx.fillText(lab, x, cy + 7);
    });
    ctx.restore();
  },
};

export default function App() {
  const ref = useRef<HTMLCanvasElement | null>(null);
  useEffect(() => {
    if (!ref.current) return;
    const common = { pointRadius: 4.6, pointBorderWidth: 0, borderWidth: 0, pointHoverRadius: 4.6, clip: 0 };
    const chart = new Chart(ref.current, {
      type: "scatter",
      data: {
        datasets: [
          { label: "(g-2) as input (B)", data: toXY([...greenPts, ...rowsToPts(greenCoreRows)]), backgroundColor: "#14dc14", order: 1, ...common },
          { label: "(g-2) as input (A)", data: toXY(redPts), backgroundColor: "#d01c1c", order: 2, ...common },
          { label: "B(mu->e gamma) constraint (B)", data: toXY([...bluePts, ...rowsToPts(blueCoreRows)]), backgroundColor: "#0000f2", order: 3, ...common },
          { label: "B(mu->e gamma) constraint (A)", data: toXY([...blackPts, ...rowsToPts(blackCoreRows)]), backgroundColor: "#000000", order: 4, ...common },
        ],
      },
      options: {
        responsive: false,
        animation: false,
        events: [],
        layout: { padding: { left: 132.5, right: 4.5, top: 19, bottom: 94 } },
        scales: {
          x: { type: "logarithmic", min: X_MIN, max: X_MAX, display: false },
          y: { type: "logarithmic", min: Y_MIN, max: Y_MAX, display: false },
        },
        plugins: { legend: { display: false }, tooltip: { enabled: false } },
      },
      plugins: [bandsPlugin, framePlugin],
    } as any);
    return () => chart.destroy();
  }, []);
  return (
    <div style={{ position: "fixed", left: 0, top: 0, width: 972, height: 629, background: "#fff" }}>
      <canvas ref={ref} width={972} height={629} style={{ display: "block" }} />
    </div>
  );
}
